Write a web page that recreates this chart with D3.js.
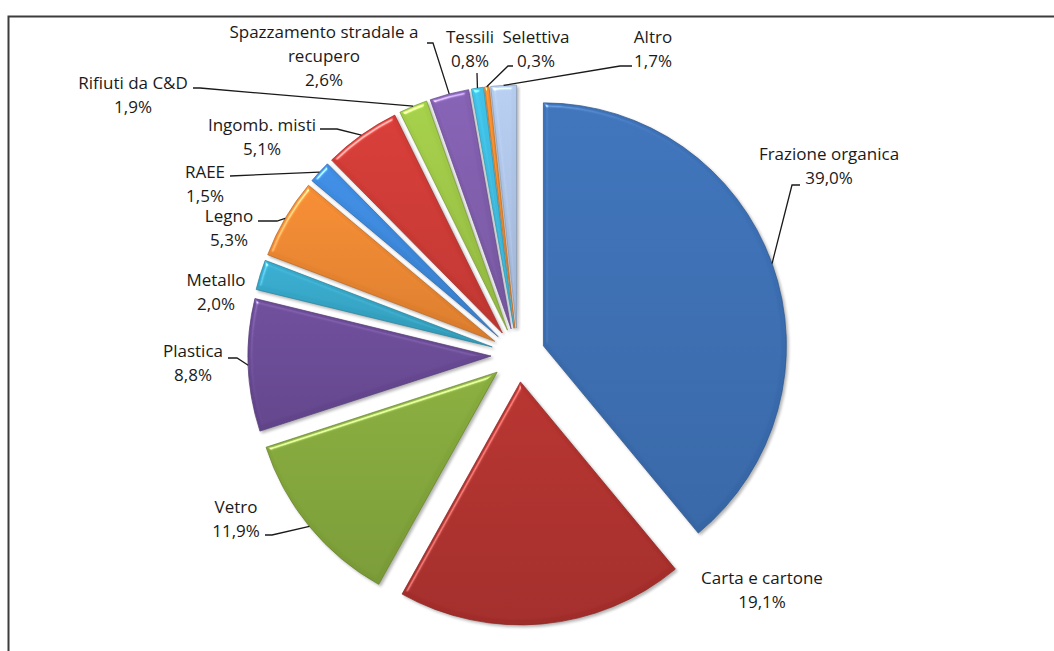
<!DOCTYPE html>
<html>
<head>
<meta charset="utf-8">
<script src="https://cdn.jsdelivr.net/npm/d3@7"></script>
<style>
  html, body { margin: 0; padding: 0; background: #fff; }
  svg { display: block; }
  text { font-family: "Open Sans", Lato, sans-serif; font-size: 17px; fill: #1a1a1a; }
</style>
</head>
<body>
<svg id="chart" width="1054" height="651"></svg>
<script>
// Raccolta differenziata: composizione per frazione merceologica (%)
const categories = [
  "Frazione organica", "Carta e cartone", "Vetro", "Plastica", "Metallo",
  "Legno", "RAEE", "Ingomb. misti", "Rifiuti da C&D",
  "Spazzamento stradale a recupero", "Tessili", "Selettiva", "Altro"
];
const values = [39.0, 19.1, 11.9, 8.8, 2.0, 5.3, 1.5, 5.1, 1.9, 2.6, 0.8, 0.3, 1.7];
const colors = [
  "#3a6db1", "#ad302c", "#82a53a", "#684994", "#35a5c6",
  "#ea8530", "#3b87da", "#cc3934", "#9cc545",
  "#7e5cab", "#3dbbdf", "#f08a2c", "#adc3e5"
];

// Label blocks: name lines, centre x, first baseline, leader stub (null = no leader)
const labelLayout = [
  { lines: ["Frazione organica"], x: 829, y: 160, stub: [[800, 185], [792, 185]] },
  { lines: ["Carta e cartone"], x: 762, y: 584, stub: null },
  { lines: ["Vetro"], x: 236, y: 513, stub: [[265, 535], [272, 535]] },
  { lines: ["Plastica"], x: 193, y: 357, stub: [[228, 358], [237, 358]] },
  { lines: ["Metallo"], x: 216, y: 286, stub: null },
  { lines: ["Legno"], x: 229, y: 222, stub: [[258, 221], [277, 221]] },
  { lines: ["RAEE"], x: 205, y: 178, stub: [[230, 176]] },
  { lines: ["Ingomb. misti"], x: 262, y: 131, stub: [[320, 129], [337, 129]] },
  { lines: ["Rifiuti da C&D"], x: 133, y: 89, stub: [[193, 88], [200, 88]] },
  { lines: ["Spazzamento stradale a", "recupero"], x: 324, y: 38, stub: [[427, 43], [433, 43]] },
  { lines: ["Tessili"], x: 470, y: 43, stub: [[477, 73]] },
  { lines: ["Selettiva"], x: 536, y: 43, stub: [[513, 66], [508, 66]] },
  { lines: ["Altro"], x: 653, y: 43, stub: [[632, 66], [620, 66]] }
];

const svg = d3.select("#chart");
const W = 1054, H = 651;
const cx = 518, cy = 355, R = 243, explode = 27, lineH = 24;

// outer frame
svg.append("path")
  .attr("d", `M8.5,${H} V16.5 H${W}`)
  .attr("fill", "none").attr("stroke", "#3c3c3c").attr("stroke-width", 2);

const defs = svg.append("defs");

// soft bevel: specular highlight on the blurred alpha edge + faint drop shadow
const f = defs.append("filter").attr("id", "bevel")
  .attr("color-interpolation-filters", "sRGB")
  .attr("x", "-10%").attr("y", "-10%").attr("width", "125%").attr("height", "125%");
f.append("feGaussianBlur").attr("in", "SourceAlpha").attr("stdDeviation", 2.2).attr("result", "blur");
f.append("feSpecularLighting").attr("in", "blur").attr("surfaceScale", 3)
  .attr("specularConstant", 0.7).attr("specularExponent", 40)
  .attr("lighting-color", "#ffffff").attr("result", "spec")
  .append("feDistantLight").attr("azimuth", 235).attr("elevation", 42);
f.append("feComposite").attr("in", "spec").attr("in2", "SourceAlpha").attr("operator", "in").attr("result", "specIn");
f.append("feComposite").attr("in", "SourceGraphic").attr("in2", "specIn")
  .attr("operator", "arithmetic").attr("k1", 0).attr("k2", 1).attr("k3", 0.8).attr("k4", 0).attr("result", "lit");
f.append("feGaussianBlur").attr("in", "SourceAlpha").attr("stdDeviation", 1.6).attr("result", "sblur");
f.append("feOffset").attr("in", "sblur").attr("dx", 1.5).attr("dy", 2).attr("result", "soff");
f.append("feComponentTransfer").attr("in", "soff").attr("result", "shadow")
  .append("feFuncA").attr("type", "linear").attr("slope", 0.3);
const merge = f.append("feMerge");
merge.append("feMergeNode").attr("in", "shadow");
merge.append("feMergeNode").attr("in", "lit");

// vertical gradient per slice
colors.forEach((c, i) => {
  const g = defs.append("linearGradient").attr("id", "grad" + i)
    .attr("x1", 0).attr("y1", 0).attr("x2", 0).attr("y2", 1);
  g.append("stop").attr("offset", "0%").attr("stop-color", d3.color(c).brighter(0.12));
  g.append("stop").attr("offset", "100%").attr("stop-color", d3.color(c).darker(0.22));
});

const pie = d3.pie().sort(null).value(d => d.value).startAngle(0).endAngle(2 * Math.PI);
const arcs = pie(categories.map((c, i) => ({ name: c, value: values[i], i })));
const arc = d3.arc().innerRadius(0).outerRadius(R);

function offsetOf(a) {
  const m = (a.startAngle + a.endAngle) / 2;
  return [explode * Math.sin(m), -explode * Math.cos(m)];
}

const gPie = svg.append("g").attr("transform", `translate(${cx},${cy})`);
gPie.selectAll("path.slice")
  .data(arcs)
  .join("path")
  .attr("class", "slice")
  .attr("transform", d => { const o = offsetOf(d); return `translate(${o[0]},${o[1]})`; })
  .attr("d", arc)
  .attr("fill", d => `url(#grad${d.data.i})`)
  .attr("stroke", d => d3.color(colors[d.data.i]).darker(0.7))
  .attr("stroke-width", 0.7)
  .attr("stroke-linejoin", "round")
  .attr("filter", "url(#bevel)");

const fmt = v => d3.format(".1f")(v).replace(".", ",") + "%";

// leader lines, ending on the outer edge of each slice
const leaderEnd = a => {
  const m = (a.startAngle + a.endAngle) / 2;
  const o = offsetOf(a);
  return [cx + o[0] + R * Math.sin(m), cy + o[1] - R * Math.cos(m)];
};
const gLab = svg.append("g");
arcs.forEach((a, k) => {
  const L = labelLayout[k];
  if (L.stub) {
    const pts = L.stub.concat([leaderEnd(a)]);
    gLab.append("path")
      .attr("d", d3.line()(pts))
      .attr("fill", "none").attr("stroke", "#1a1a1a").attr("stroke-width", 1.3);
  }
  const lines = L.lines.concat([fmt(a.data.value)]);
  const t = gLab.append("text").attr("text-anchor", "middle");
  lines.forEach((s, j) => {
    t.append("tspan").attr("x", L.x).attr("y", L.y + j * lineH).text(s);
  });
});
</script>
</body>
</html>
